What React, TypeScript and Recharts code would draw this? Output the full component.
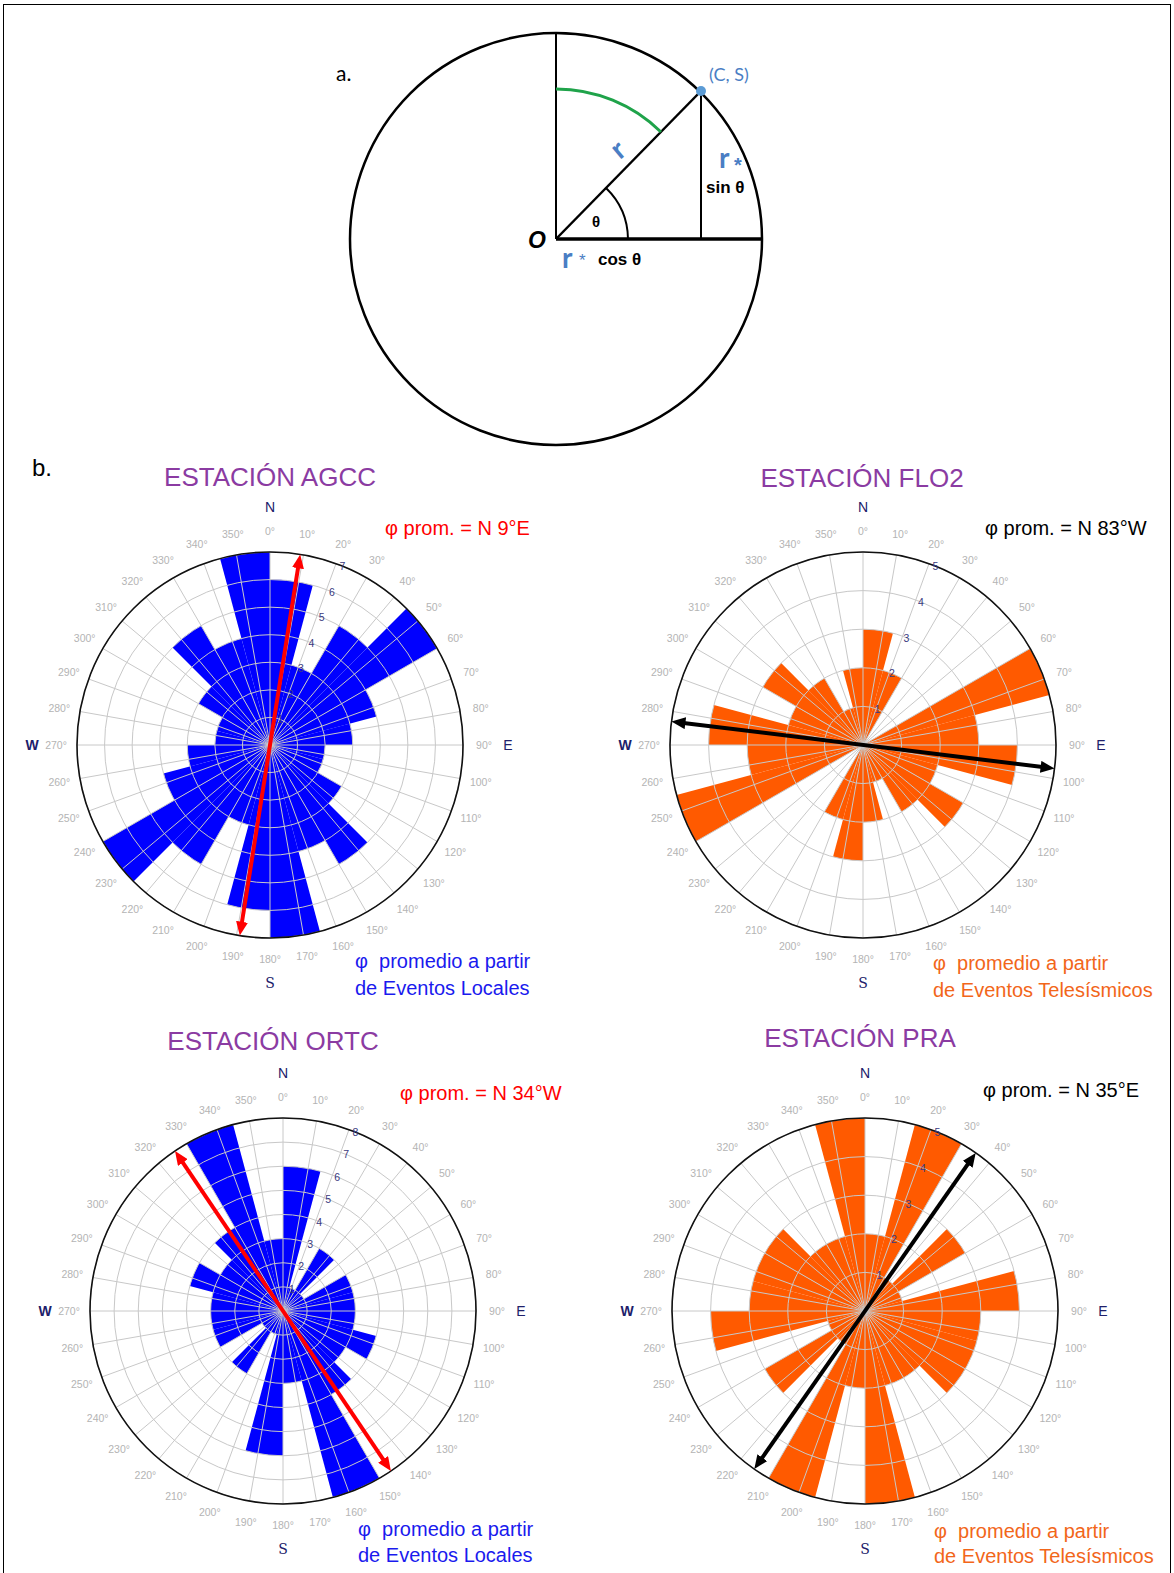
import React from 'react';
import {
  RadialBarChart, RadialBar, PolarAngleAxis, PolarRadiusAxis, PolarGrid,
} from 'recharts';

// 15 degree bins, start direction of each sector (compass degrees, clockwise from N)
const BIN_STARTS = ['0', '15', '30', '45', '60', '75', '90', '105', '120', '135', '150', '165',
  '180', '195', '210', '225', '240', '255', '270', '285', '300', '315', '330', '345'];

const AGCC_COUNTS = [6, 3, 5, 7, 4, 3, 2, 2, 3, 5, 4, 7, 6, 3, 5, 7, 4, 3, 2, 2, 3, 5, 4, 7];
const FLO2_COUNTS = [3, 2, 0, 0, 5, 3, 4, 2, 3, 2, 1, 2, 3, 2, 0, 0, 5, 3, 4, 2, 3, 2, 1, 2];
const ORTC_COUNTS = [6, 1, 3, 1, 3, 3, 3, 4, 3, 4, 8, 3, 6, 1, 3, 1, 3, 3, 3, 4, 3, 4, 8, 3];
const PRA_COUNTS = [2, 5, 1, 3, 1, 4, 3, 3, 3, 2, 2, 5, 2, 5, 1, 3, 1, 4, 3, 3, 3, 2, 2, 5];

const DEG_TICKS = [0, 10, 20, 30, 40, 50, 60, 70, 80, 90, 100, 110, 120, 130, 140, 150, 160, 170,
  180, 190, 200, 210, 220, 230, 240, 250, 260, 270, 280, 290, 300, 310, 320, 330, 340, 350];
const COMPASS_TICKS = [0, 90, 180, 270];
const COMPASS_LABELS = ['N', 'E', 'S', 'W'];

// mean fast direction (compass degrees)
const MEAN_AGCC = 9;
const MEAN_FLO2 = 277;
const MEAN_ORTC = 326;
const MEAN_PRA = 35;

const BLUE = '#0000ff';
const ORANGE = '#ff5a00';
const GRID = '#c8c8c8';
const NAVY = '#20206a';
const PURPLE = '#8b3ba2';
const SANS = '"Liberation Sans", Arial, sans-serif';

const BOX = 520;
const MID = BOX / 2;
const RADIUS = 193;
const DEG_DATA = DEG_TICKS.map((deg) => ({ deg }));

function DegTick({ x, y, payload }: any) {
  const v = Number(payload.value);
  const k = COMPASS_TICKS.indexOf(v);
  const dx = x - MID;
  const dy = y - MID;
  const len = Math.sqrt(dx * dx + dy * dy) || 1;
  const cx = MID + (dx / len) * (RADIUS + 45);
  const cy = MID + (dy / len) * (RADIUS + 45);
  const label = k >= 0 ? COMPASS_LABELS[k] : null;
  return (
    <g>
      <text x={x} y={y} textAnchor="middle" dominantBaseline="central" fontSize={10.5}
        fill="#b4b4b4" fontFamily={SANS}>{`${v}°`}</text>
      {label && (
        <text x={cx} y={cy} textAnchor="middle" dominantBaseline="central" fontSize={14}
          fill={NAVY} fontFamily={label === 'S' ? '"DejaVu Serif", serif' : SANS}
          fontWeight={label === 'W' ? 'bold' : 'normal'}>{label}</text>
      )}
    </g>
  );
}

function RingTick({ x, y, payload }: any) {
  if (!payload.value) return <g />;
  return (
    <text x={x} y={y} textAnchor="middle" dominantBaseline="central" fontSize={10.5}
      fill="#3a3a80" fontFamily={SANS}>{payload.value}</text>
  );
}

function Arrow({ id, dir, color }: { id: string; dir: number; color: string }) {
  const rad = (dir * Math.PI) / 180;
  const ux = Math.sin(rad);
  const uy = -Math.cos(rad);
  const back = RADIUS - 10;
  return (
    <svg width={BOX} height={BOX} style={{ position: 'absolute', left: 0, top: 0 }}>
      <defs>
        <marker id={`head-${id}`} viewBox="0 0 14 12" refX={4} refY={6} markerWidth={14}
          markerHeight={12} markerUnits="userSpaceOnUse" orient="auto-start-reverse">
          <path d="M0,0 L14,6 L0,12 z" fill={color} />
        </marker>
      </defs>
      <line x1={MID - back * ux} y1={MID - back * uy} x2={MID + back * ux} y2={MID + back * uy}
        stroke={color} strokeWidth={4} markerStart={`url(#head-${id})`} markerEnd={`url(#head-${id})`} />
    </svg>
  );
}

interface RoseProps {
  id: string;
  counts: number[];
  max: number;
  color: string;
  meanDir: number;
  arrowColor: string;
  left: number;
  top: number;
}

function Rose({ id, counts, max, color, meanDir, arrowColor, left, top }: RoseProps) {
  const data = BIN_STARTS.map((dir, i) => ({ dir, count: counts[i] }));
  const common = {
    width: BOX, height: BOX, cx: MID, cy: MID, innerRadius: 0, outerRadius: RADIUS,
    margin: { top: 0, right: 0, bottom: 0, left: 0 },
  };
  return (
    <div style={{ position: 'absolute', left, top, width: BOX, height: BOX }}>
      <div style={{ position: 'absolute', left: 0, top: 0 }}>
        <RadialBarChart {...common} data={data} startAngle={75} endAngle={-285}
          layout="centric" barCategoryGap={0} barGap={0}>
          <PolarAngleAxis dataKey="dir" type="category" tick={false} tickLine={false} axisLine={false} />
          <PolarRadiusAxis type="number" domain={[0, max]} allowDataOverflow tick={false}
            tickLine={false} axisLine={false} />
          <RadialBar dataKey="count" fill={color} isAnimationActive={false} />
        </RadialBarChart>
      </div>
      <div style={{ position: 'absolute', left: 0, top: 0 }}>
        <RadialBarChart {...common} data={DEG_DATA} startAngle={90} endAngle={-270} layout="centric">
          <PolarGrid gridType="circle" polarAngles={DEG_TICKS.map((d) => 90 - d)} stroke={GRID} />
          <PolarAngleAxis dataKey="deg" type="category" tickSize={21} tickLine={false}
            axisLineType="circle" axisLine={{ stroke: '#111', strokeWidth: 1.6 }} tick={DegTick} />
          <PolarRadiusAxis type="number" domain={[0, max]} allowDataOverflow tickCount={max + 1}
            angle={68} tickLine={false} axisLine={false} tick={RingTick} />
        </RadialBarChart>
      </div>
      <Arrow id={id} dir={meanDir} color={arrowColor} />
    </div>
  );
}

function Txt({ x, y, size, color, children, center }: any) {
  const style: React.CSSProperties = {
    position: 'absolute', top: y - size * 0.5, fontSize: size, lineHeight: `${size}px`,
    color, whiteSpace: 'pre', fontFamily: SANS,
  };
  if (center) {
    style.left = x - 250;
    style.width = 500;
    style.textAlign = 'center';
  } else {
    style.left = x;
  }
  return <div style={style}>{children}</div>;
}

function PartA() {
  const blue = '#4a7ec4';
  return (
    <svg width={1174} height={450} style={{ position: 'absolute', left: 0, top: 0 }}>
      <circle cx={556} cy={239} r={206} fill="none" stroke="#000" strokeWidth={2.5} />
      <line x1={556} y1={239} x2={556} y2={33} stroke="#000" strokeWidth={2} />
      <line x1={556} y1={239} x2={762} y2={239} stroke="#000" strokeWidth={3.5} />
      <line x1={556} y1={239} x2={701} y2={91} stroke="#000" strokeWidth={2.5} />
      <line x1={701} y1={91} x2={701} y2={239} stroke="#000" strokeWidth={2} />
      <path d="M 556 89 A 150 150 0 0 1 661 132" fill="none" stroke="#1fa34a" strokeWidth={3} />
      <path d="M 606 188 A 72 72 0 0 1 628 239" fill="none" stroke="#000" strokeWidth={2} />
      <circle cx={701} cy={91} r={5} fill="#5b9bd5" />
      <text x={336} y={81} fontSize={21} fontFamily="Lato, sans-serif" fill="#000">a.</text>
      <text x={709} y={81} fontSize={18} fontFamily="Lato, sans-serif" fill={blue}>(C, S)</text>
      <text x={0} y={0} fontSize={28} fontWeight="bold" fontFamily="Lato, sans-serif" fill={blue}
        transform="translate(620,160) rotate(-40)">r</text>
      <text x={719} y={168} fontSize={28} fontWeight="bold" fontFamily="Lato, sans-serif" fill={blue}>r</text>
      <text x={734} y={172} fontSize={20} fontWeight="bold" fontFamily={SANS} fill={blue}>*</text>
      <text x={706} y={193} fontSize={17} fontWeight="bold" fontFamily={SANS} fill="#000">sin θ</text>
      <text x={592} y={227} fontSize={15} fontWeight="bold" fontFamily={SANS} fill="#000">θ</text>
      <text x={528} y={248} fontSize={23} fontWeight="bold" fontStyle="italic" fontFamily={SANS} fill="#000">O</text>
      <text x={562} y={268} fontSize={28} fontWeight="bold" fontFamily="Lato, sans-serif" fill={blue}>r</text>
      <text x={579} y={266} fontSize={17} fontFamily={SANS} fill={blue}>*</text>
      <text x={598} y={265} fontSize={17} fontWeight="bold" fontFamily={SANS} fill="#000">cos θ</text>
    </svg>
  );
}

export default function App() {
  return (
    <div style={{
      position: 'absolute', left: 0, top: 0, width: 1174, height: 1573, overflow: 'hidden',
      background: '#fff', fontFamily: SANS,
    }}>
      <div style={{
        position: 'absolute', left: 3, top: 4, width: 1166, height: 1600,
        border: '1.5px solid #000',
      }} />
      <PartA />
      <Txt x={32} y={468} size={24} color="#000">b.</Txt>

      <Txt x={270} y={477} size={26} color={PURPLE} center>ESTACIÓN AGCC</Txt>
      <Txt x={862} y={478} size={26} color={PURPLE} center>ESTACIÓN FLO2</Txt>
      <Txt x={273} y={1041} size={26} color={PURPLE} center>ESTACIÓN ORTC</Txt>
      <Txt x={860} y={1038} size={26} color={PURPLE} center>ESTACIÓN PRA</Txt>

      <Rose id="agcc" counts={AGCC_COUNTS} max={7} color={BLUE} meanDir={MEAN_AGCC}
        arrowColor="#ff0000" left={10} top={485} />
      <Rose id="flo2" counts={FLO2_COUNTS} max={5} color={ORANGE} meanDir={MEAN_FLO2}
        arrowColor="#000" left={603} top={485} />
      <Rose id="ortc" counts={ORTC_COUNTS} max={8} color={BLUE} meanDir={MEAN_ORTC}
        arrowColor="#ff0000" left={23} top={1051} />
      <Rose id="pra" counts={PRA_COUNTS} max={5} color={ORANGE} meanDir={MEAN_PRA}
        arrowColor="#000" left={605} top={1051} />

      <Txt x={385} y={528} size={20} color="#ff0000">φ prom. = N 9°E</Txt>
      <Txt x={985} y={528} size={20} color="#000">φ prom. = N 83°W</Txt>
      <Txt x={400} y={1093} size={20} color="#ff0000">φ prom. = N 34°W</Txt>
      <Txt x={983} y={1090} size={20} color="#000">φ prom. = N 35°E</Txt>

      <Txt x={355} y={961} size={20} color="#1a1aee">{'φ  promedio a partir'}</Txt>
      <Txt x={355} y={988} size={20} color="#1a1aee">de Eventos Locales</Txt>
      <Txt x={933} y={963} size={20} color="#f2661a">{'φ  promedio a partir'}</Txt>
      <Txt x={933} y={990} size={20} color="#f2661a">de Eventos Telesísmicos</Txt>
      <Txt x={358} y={1529} size={20} color="#1a1aee">{'φ  promedio a partir'}</Txt>
      <Txt x={358} y={1555} size={20} color="#1a1aee">de Eventos Locales</Txt>
      <Txt x={934} y={1531} size={20} color="#f2661a">{'φ  promedio a partir'}</Txt>
      <Txt x={934} y={1556} size={20} color="#f2661a">de Eventos Telesísmicos</Txt>
    </div>
  );
}
